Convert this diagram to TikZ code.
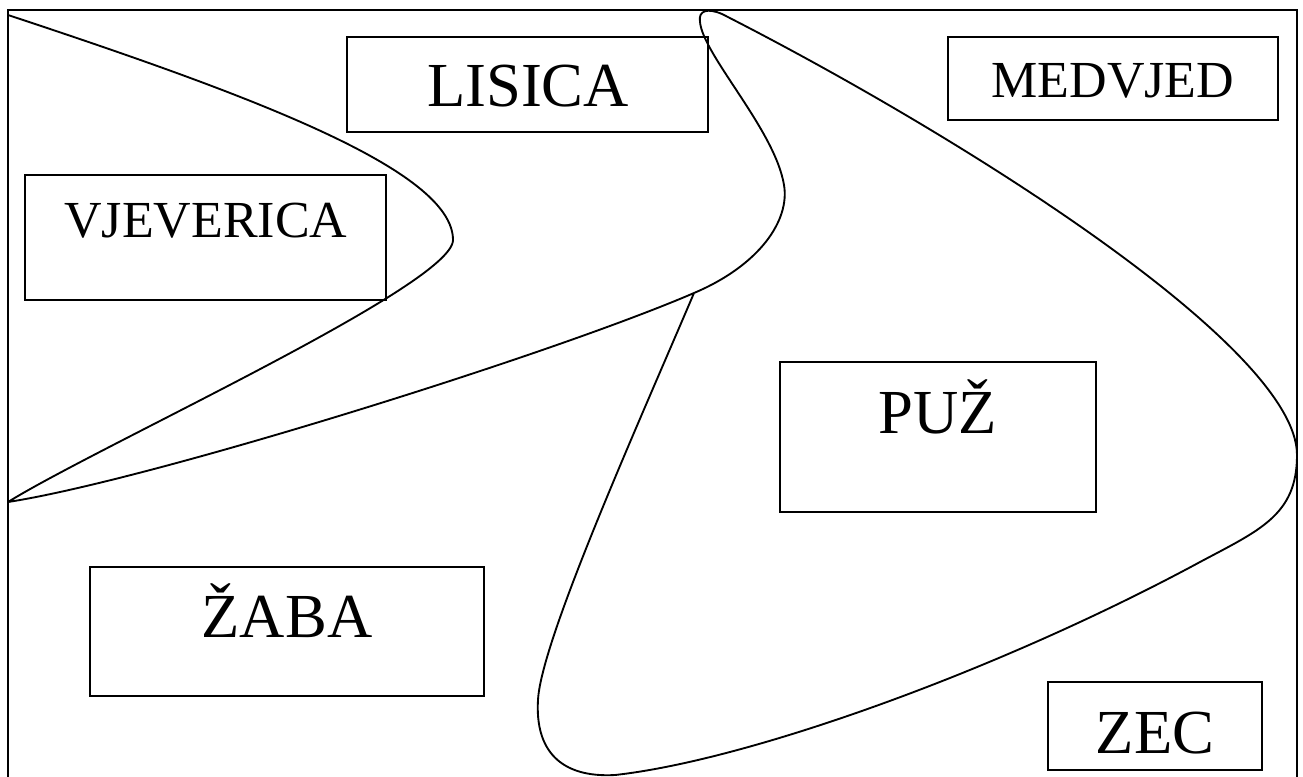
\documentclass[tikz,border=0pt]{standalone}
\usepackage{fontspec}
\setmainfont{Liberation Serif}
\usetikzlibrary{fit}
\begin{document}
\begin{tikzpicture}[x=0.75pt,y=-0.75pt,
  box/.style={draw,line width=1.4pt,inner sep=0pt},
  biglbl/.style={font=\fontsize{47}{50}\selectfont,inner sep=0pt,anchor=base},
  smalllbl/.style={font=\fontsize{39}{42}\selectfont,inner sep=0pt,anchor=base},
  curve/.style={draw,line width=1.4pt,line join=round}]
\useasboundingbox (0,0) rectangle (1303,776);
\node[box,fit={(8,10) (1297,782)}] (frame) {};
% boxes
\node[box,fit={(347,37) (708,132)}] (lisica) {};
\node[box,fit={(948,37) (1278,120)}] (medvjed) {};
\node[box,fit={(25,175) (386,300)}] (vjeverica) {};
\node[box,fit={(780,362) (1096,512)}] (puz) {};
\node[box,fit={(90,567) (484,696)}] (zaba) {};
\node[box,fit={(1048,682) (1262,770)}] (zec) {};
% labels
\node[biglbl] (tlisica) at (528,106) {LISICA};
\node[smalllbl] (tmedvjed) at (1113,97) {MEDVJED};
\node[smalllbl] (tvjeverica) at (206,237) {VJEVERICA};
\node[biglbl] (tpuz) at (938,433) {PUŽ};
\node[biglbl] (tzaba) at (287,637) {ŽABA};
\node[biglbl] (tzec) at (1155,753) {ZEC};
% freehand curve
\draw[curve] (8,15)
  .. controls (250,95) and (453,170) .. (453,240)
  .. controls (453,285) and (100,445) .. (8,502)
  .. controls (150,480) and (550,355) .. (694,293)
  .. controls (760,265) and (790,220) .. (784,185)
  .. controls (775,130) and (703,55) .. (700,22)
  .. controls (698,10) and (708,8) .. (722,14)
  .. controls (950,130) and (1297,345) .. (1297,455)
  .. controls (1297,515) and (1260,530) .. (1200,562)
  .. controls (1000,670) and (750,760) .. (615,775)
  .. controls (560,778) and (535,750) .. (538,700)
  .. controls (541,640) and (640,420) .. (694,293);
\end{tikzpicture}
\end{document}
